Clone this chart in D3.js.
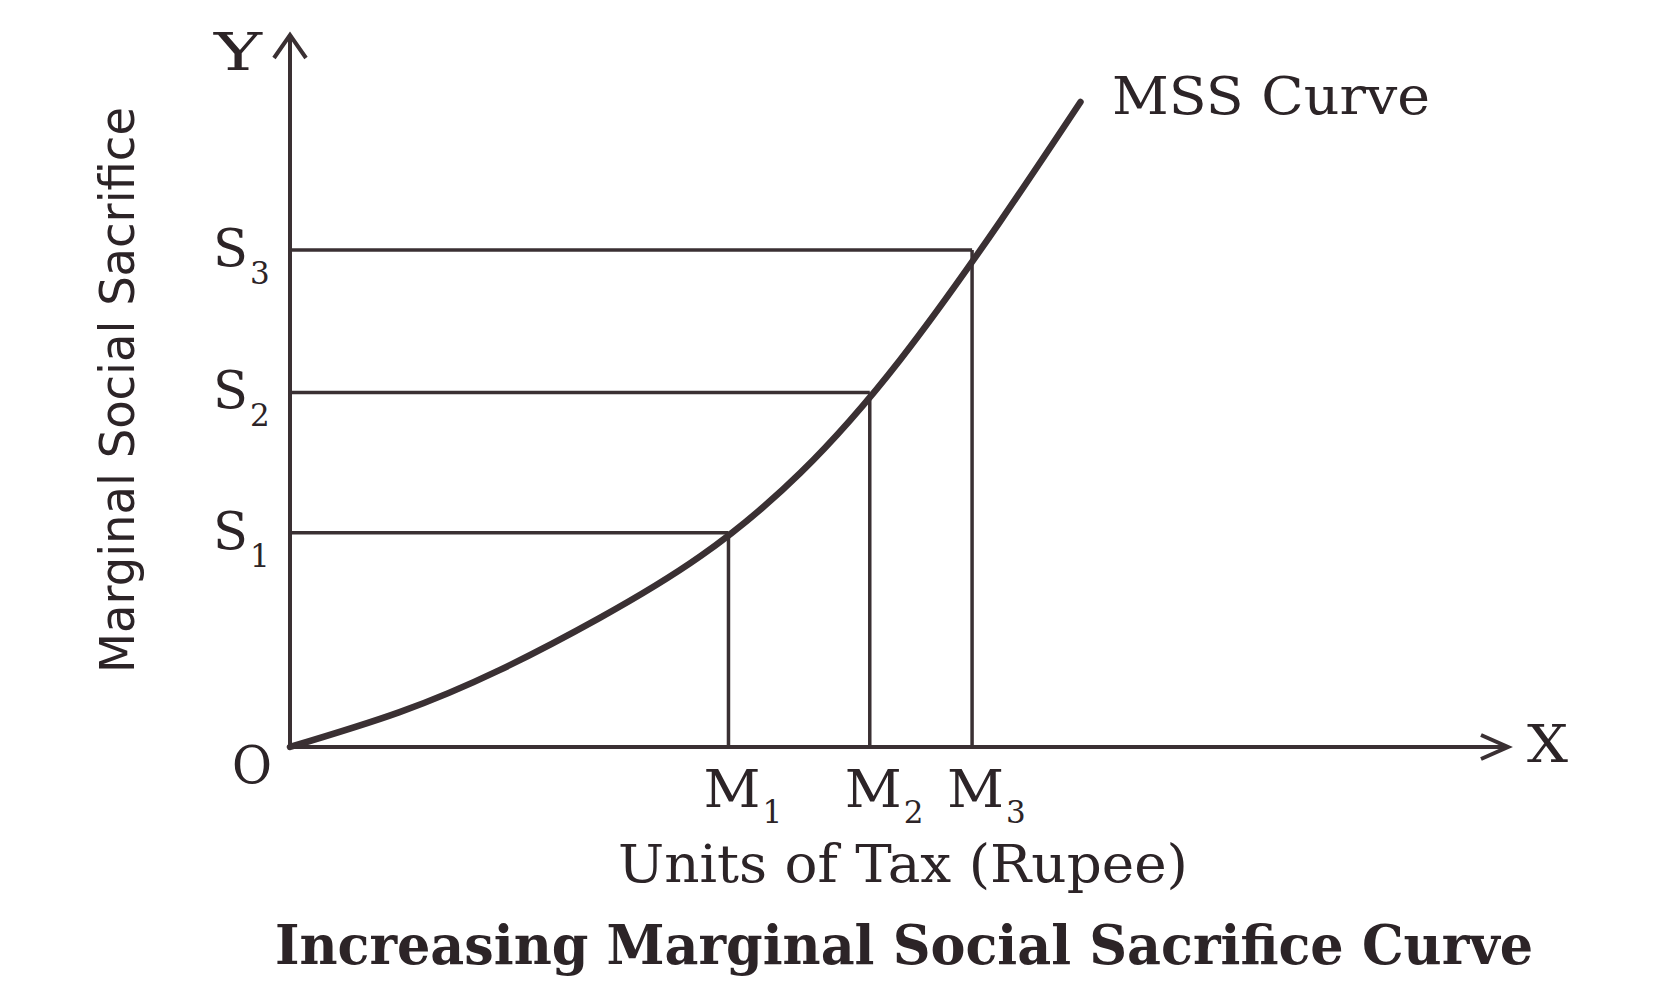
<!DOCTYPE html>
<html>
<head>
<meta charset="utf-8">
<script src="https://cdn.jsdelivr.net/npm/d3@7"></script>
<style>
  html, body { margin: 0; padding: 0; background: #ffffff; }
  svg { display: block; }
</style>
</head>
<body>
<svg id="chart" width="1670" height="997"></svg>
<script>
// ---- data ----
const curveX = [0, 9.0, 17.2, 25.4, 33.7, 41.9, 50.1, 58.3, 64.9];
const curveY = [0, 4.9, 10.8, 18.1, 26.8, 38.5, 54.4, 73.8, 90.6];
const mValues = [36.0, 47.6, 56.0];
const sValues = [30.1, 49.8, 69.8];
const mLabels = ["M", "M", "M"];
const sLabels = ["S", "S", "S"];
const subscripts = ["1", "2", "3"];
const curveLabel = "MSS Curve";
const xAxisTitle = "Units of Tax (Rupee)";
const yAxisTitle = "Marginal Social Sacrifice";
const chartTitle = "Increasing Marginal Social Sacrifice Curve";

// ---- layout ----
const svg = d3.select("#chart");
const ink = "#3a3033";
const textInk = "#2c2427";
const serif = "'DejaVu Serif', 'Liberation Serif', serif";

const x = d3.scaleLinear().domain([0, 100]).range([290, 1508]);
const y = d3.scaleLinear().domain([0, 100]).range([747, 35]);

svg.append("rect").attr("width", 1670).attr("height", 997).attr("fill", "#ffffff");

// guide lines
const g = svg.append("g");
mValues.forEach((m, i) => {
  g.append("line")
    .attr("x1", x(0)).attr("x2", x(m))
    .attr("y1", y(sValues[i])).attr("y2", y(sValues[i]))
    .attr("stroke", ink).attr("stroke-width", 3.5);
  g.append("line")
    .attr("x1", x(m)).attr("x2", x(m))
    .attr("y1", y(0)).attr("y2", y(sValues[i]))
    .attr("stroke", ink).attr("stroke-width", 3.5);
});

// axes
svg.append("line").attr("x1", x(0)).attr("x2", x(100)).attr("y1", y(0)).attr("y2", y(0))
  .attr("stroke", ink).attr("stroke-width", 4);
svg.append("line").attr("x1", x(0)).attr("x2", x(0)).attr("y1", y(0) + 2).attr("y2", y(100))
  .attr("stroke", ink).attr("stroke-width", 4);
// arrow heads (open chevrons)
svg.append("path")
  .attr("d", `M${x(100) - 27},${y(0) - 12} L${x(100)},${y(0)} L${x(100) - 27},${y(0) + 12}`)
  .attr("fill", "none").attr("stroke", ink).attr("stroke-width", 4).attr("stroke-linejoin", "miter");
svg.append("path")
  .attr("d", `M${x(0) - 16},${y(100) + 23} L${x(0)},${y(100)} L${x(0) + 16},${y(100) + 23}`)
  .attr("fill", "none").attr("stroke", ink).attr("stroke-width", 4).attr("stroke-linejoin", "miter");

// MSS curve
const pts = curveX.map((v, i) => [v, curveY[i]]);
const line = d3.line().x(d => x(d[0])).y(d => y(d[1])).curve(d3.curveNatural);
svg.append("path").attr("d", line(pts))
  .attr("fill", "none").attr("stroke", ink).attr("stroke-width", 6.5).attr("stroke-linecap", "round");

// text helpers
function txt(t, px, py, size, opts = {}) {
  const el = svg.append("text").attr("x", px).attr("y", py)
    .attr("font-family", opts.family || serif)
    .attr("font-size", size)
    .attr("font-weight", opts.weight || "normal")
    .attr("fill", textInk)
    .attr("text-anchor", opts.anchor || "start")
    .text(t);
  if (opts.len) el.attr("textLength", opts.len).attr("lengthAdjust", "spacingAndGlyphs");
  if (opts.stretch) el.style("font-stretch", opts.stretch);
  return el;
}

// axis letters
txt("Y", 214, 70, 52, { len: 48 });
txt("X", 1527, 762, 52, { len: 41 });
txt("O", 232, 783, 52, { len: 40 });

// S labels
sValues.forEach((s, i) => {
  txt(sLabels[i], 248, y(s) + 16, 52, { anchor: "end", len: 35 });
  txt(subscripts[i], 250, y(s) + 34, 31);
});
// M labels
mValues.forEach((m, i) => {
  txt(mLabels[i], x(m) - 25, 807, 52, { len: 57 });
  txt(subscripts[i], x(m) + 34, 823, 31);
});

txt(curveLabel, 1112, 114, 52, { len: 318 });
txt(xAxisTitle, 903, 882, 52, { anchor: "middle", len: 570 });

// y axis title
svg.append("text")
  .attr("transform", `translate(134,390) rotate(-90)`)
  .attr("text-anchor", "middle")
  .attr("font-family", "'Liberation Sans Narrow', 'DejaVu Sans Condensed', 'Roboto', sans-serif")
  .style("font-stretch", "condensed")
  .attr("font-size", 48)
  .attr("fill", textInk)
  .attr("textLength", 566).attr("lengthAdjust", "spacingAndGlyphs")
  .text(yAxisTitle);

// title
txt(chartTitle, 904, 964, 54, {
  anchor: "middle", weight: "bold",
  family: "'DejaVu Serif Condensed', 'DejaVu Serif', serif",
  stretch: "condensed", len: 1258
});
</script>
</body>
</html>
